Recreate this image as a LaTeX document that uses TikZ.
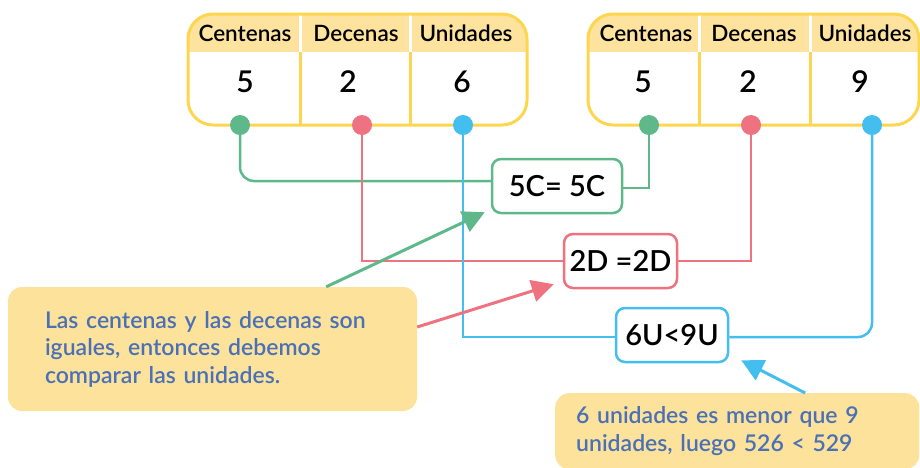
\documentclass[tikz,border=0pt]{standalone}
\usepackage{fontspec}
\setmainfont{Lato Semibold}
\usetikzlibrary{arrows.meta,backgrounds}
\definecolor{cgreen}{RGB}{94,184,138}
\definecolor{cred}{RGB}{238,114,128}
\definecolor{cblue}{RGB}{68,190,238}
\definecolor{cyel}{RGB}{253,214,80}
\definecolor{hdr}{RGB}{253,227,157}
\definecolor{notefill}{RGB}{253,226,156}
\definecolor{notetext}{RGB}{74,112,182}

\begin{document}
\begin{tikzpicture}[x=1pt, y=-1pt,
  tabline/.style={draw=cyel, line width=3pt},
  head/.style={font=\fontsize{22.5}{25}\selectfont},
  digit/.style={font=\fontsize{30}{33}\selectfont},
  dot/.style={circle, inner sep=0pt, minimum size=20pt},
  cmpbox/.style={draw, line width=2.5pt, rounded corners=9pt, fill=white, minimum height=54pt, inner sep=0pt, font=\fontsize{29}{32}\selectfont},
  link/.style={line width=2.5pt},
  note/.style={fill=notefill, rounded corners=14pt, text=notetext, align=left, inner ysep=0pt, font=\fontsize{23}{27.5}\selectfont},
  pointer/.style={line width=3pt, -{Triangle[length=22pt, width=22pt]}}]
\useasboundingbox (0,0) rectangle (920,467);
\clip (0,0) rectangle (920,467);

% left table
\begin{scope}
\clip[rounded corners=25pt] (188,14) rectangle (527,125);
\fill[hdr] (188,14) rectangle (527,52);
\end{scope}
\draw[white, line width=3pt] (300,14) -- (300,52) (410,14) -- (410,52);
\draw[tabline] (300,52) -- (300,125) (410,52) -- (410,125);
\draw[tabline, rounded corners=25pt] (188,14) rectangle (527,125);
\node[head] (c1) at (245,33) {Centenas};
\node[head] (d1) at (356,33) {Decenas};
\node[head] (u1) at (466,33) {Unidades};
\node[digit] (vc1) at (245,82) {5};
\node[digit] (vd1) at (348,82) {2};
\node[digit] (vu1) at (462,82) {6};

% right table
\begin{scope}
\clip[rounded corners=25pt] (588,14) rectangle (919,125);
\fill[hdr] (588,14) rectangle (919,52);
\end{scope}
\draw[white, line width=3pt] (699,14) -- (699,52) (810,14) -- (810,52);
\draw[tabline] (699,52) -- (699,125) (810,52) -- (810,125);
\draw[tabline, rounded corners=25pt] (588,14) rectangle (919,125);
\node[head] (c2) at (646,33) {Centenas};
\node[head] (d2) at (754,33) {Decenas};
\node[head] (u2) at (865,33) {Unidades};
\node[digit] (vc2) at (643,82) {5};
\node[digit] (vd2) at (748,82) {2};
\node[digit] (vu2) at (860,82) {9};

% dots
\node[dot, fill=cgreen] (p1) at (240,125) {};
\node[dot, fill=cred] (p2) at (362,125) {};
\node[dot, fill=cblue] (p3) at (463,125) {};
\node[dot, fill=cgreen] (q1) at (649,125) {};
\node[dot, fill=cred] (q2) at (751,125) {};
\node[dot, fill=cblue] (q3) at (872,125) {};

% comparisons
\node[cmpbox, draw=cgreen, minimum width=130pt] (b1) at (557,186) {5C= 5C};
\node[cmpbox, draw=cred, minimum width=113pt] (b2) at (620.5,261) {2D =2D};
\node[cmpbox, draw=cblue, minimum width=112pt] (b3) at (672,335) {6U<9U};

\begin{scope}[on background layer]
\draw[link, cgreen, rounded corners=14pt] (p1.center) |- ([yshift=5pt]b1.west);
\draw[link, cgreen] ([yshift=-2pt]b1.east) -| (q1.center);
\draw[link, cred] (p2.center) |- (b2.west);
\draw[link, cred] (b2.east) -| (q2.center);
\draw[link, cblue] (p3.center) |- ([yshift=-2pt]b3.west);
\draw[link, cblue, rounded corners=14pt] ([yshift=-2pt]b3.east) -| (q3.center);
\end{scope}

% notes
\node[note, text width=335pt, inner xsep=37pt, minimum height=124pt] (n1) at (212.5,349) {Las centenas y las decenas son\\iguales, entonces debemos\\comparar las unidades.};
\node[note, text width=322pt, inner xsep=21pt, minimum height=76pt, anchor=north west] (n2) at (555,393) {6 unidades es menor que 9\\unidades, luego 526 < 529};

\draw[pointer, cgreen] ([xshift=-91pt]n1.north east) -- ([xshift=-6pt, yshift=2pt]b1.south west);
\draw[pointer, cred] ([yshift=22pt]n1.east) -- ([xshift=-9pt, yshift=5pt]b2.south west);
\draw[pointer, cblue] ([xshift=68pt]n2.north) -- ([xshift=12pt, yshift=3pt]b3.south east);
\end{tikzpicture}
\end{document}
